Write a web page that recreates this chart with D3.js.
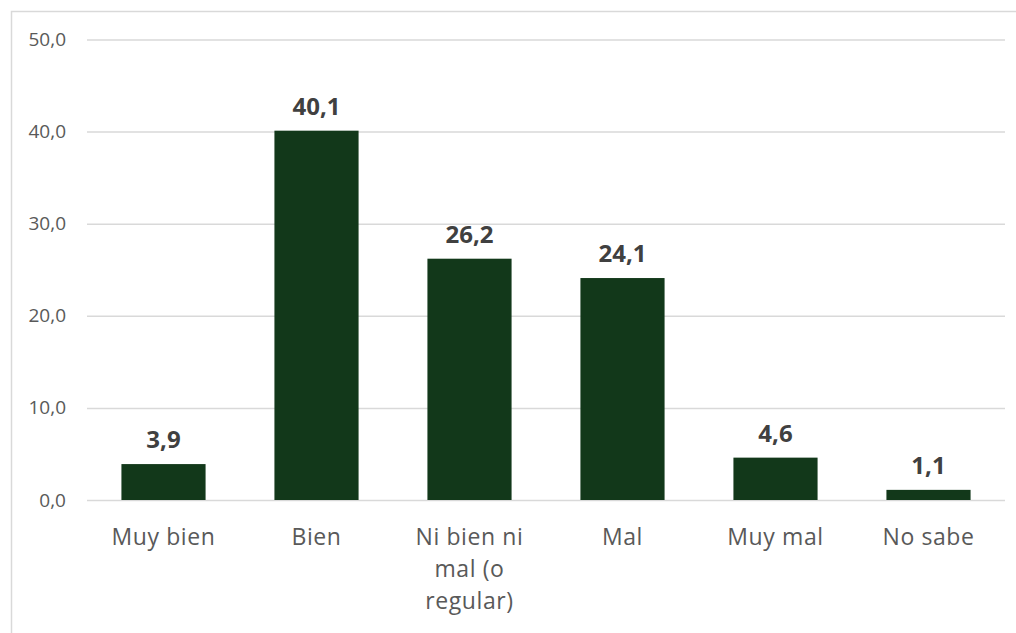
<!DOCTYPE html>
<html><head><meta charset="utf-8">
<script src="https://cdn.jsdelivr.net/npm/d3@7"></script>
<style>body{margin:0;background:#fff}svg{display:block}</style>
</head><body>
<script>
const categories = ["Muy bien", "Bien", "Ni bien ni mal (o regular)", "Mal", "Muy mal", "No sabe"];
const categoryLines = [["Muy bien"], ["Bien"], ["Ni bien ni", "mal (o", "regular)"], ["Mal"], ["Muy mal"], ["No sabe"]];
const values = [3.9, 40.1, 26.2, 24.1, 4.6, 1.1];
const yTicks = [0, 10, 20, 30, 40, 50];

(function () {
const W = 1016, H = 633;
const svg = d3.select("body").append("svg").attr("width", W).attr("height", H);
svg.append("rect").attr("width", W).attr("height", H).attr("fill", "#fff");
svg.append("path").attr("d", "M11.5,640V11.5H1020").attr("fill", "none").attr("stroke", "#d9d9d9").attr("stroke-width", 1.5);

const mL = 87, mR = 1005, mT = 39.5, mB = 500;
const x = d3.scaleBand().domain(categories).range([mL, mR]).paddingInner(0.45).paddingOuter(0.225);
const y = d3.scaleLinear().domain([0, 50]).range([mB, mT]);
const font = "'Open Sans', Lato, sans-serif";

const yAxis = d3.axisLeft(y).tickValues(yTicks).tickSize(-(mR - mL)).tickFormat(d => d3.format(".1f")(d).replace(".", ","));
const ga = svg.append("g").attr("transform", `translate(${mL},0)`).call(yAxis);
ga.select(".domain").remove();
ga.selectAll(".tick line").attr("stroke", "#d9d9d9").attr("stroke-width", 1.5);
ga.selectAll(".tick text").attr("x", -21).attr("fill", "#595959").attr("font-size", 19).attr("font-family", font);

svg.selectAll("rect.bar").data(values).enter().append("rect").attr("class", "bar")
  .attr("x", (d, i) => x(categories[i])).attr("width", x.bandwidth())
  .attr("y", d => y(d)).attr("height", d => y(0) - y(d)).attr("fill", "#12381a");

svg.selectAll("text.val").data(values).enter().append("text").attr("class", "val")
  .attr("x", (d, i) => x(categories[i]) + x.bandwidth() / 2).attr("y", d => y(d) - 16)
  .attr("text-anchor", "middle").attr("font-weight", "bold").attr("font-size", 24)
  .attr("font-family", font).attr("fill", "#404040")
  .text(d => d3.format(".1f")(d).replace(".", ","));

const xl = svg.selectAll("g.cat").data(categories).enter().append("g").attr("class", "cat");
xl.each(function (c, i) {
  const g = d3.select(this);
  categoryLines[i].forEach((ln, j) => {
    g.append("text").attr("x", x(c) + x.bandwidth() / 2).attr("y", 545 + j * 32)
      .attr("text-anchor", "middle").attr("font-size", 23).attr("letter-spacing", 0.6)
      .attr("font-family", font).attr("fill", "#595959").text(ln);
  });
});
})();
</script>
</body></html>
